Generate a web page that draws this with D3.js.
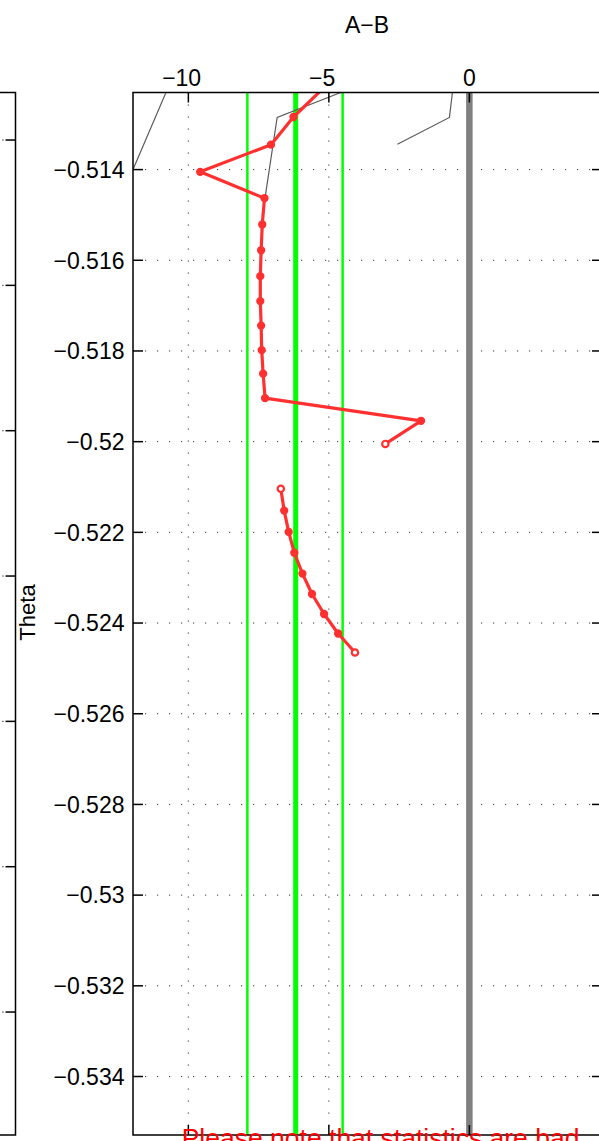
<!DOCTYPE html>
<html>
<head>
<meta charset="utf-8">
<script src="https://cdn.jsdelivr.net/npm/d3@7"></script>
<style>
  html, body { margin: 0; padding: 0; background: #fff; }
  svg { display: block; }
  text { font-family: "Liberation Sans", Arial, Helvetica, sans-serif; }
</style>
</head>
<body>
<svg id="chart" width="599" height="1141"></svg>
<script>
// ---------- data ----------
const xTicks = [-10, -5, 0];
const yTicks = [-0.534, -0.532, -0.530, -0.528, -0.526, -0.524, -0.522, -0.520, -0.518, -0.516, -0.514];
const xLabel = "A\u2212B";
const yLabel = "Theta";
const noteText = "Please note that statistics are bad";

// red track, first segment (A-B value, Theta)
const seg1AB    = [-5.12, -6.26, -7.06, -9.58, -7.29, -7.37, -7.41, -7.44, -7.44, -7.41, -7.39, -7.34, -7.27, -1.72, -2.99];
const seg1Theta = [-0.51216, -0.51284, -0.51345, -0.51405, -0.51463, -0.51521, -0.51578, -0.51635, -0.51690, -0.51744, -0.51798, -0.51850, -0.51904, -0.51954, -0.52005];
// red track, second segment
const seg2AB    = [-6.71, -6.59, -6.43, -6.23, -5.94, -5.60, -5.17, -4.67, -4.07];
const seg2Theta = [-0.52104, -0.52152, -0.52199, -0.52245, -0.52291, -0.52336, -0.52380, -0.52423, -0.52465];

// thin gray traces
const grayA_AB = [-10.79, -11.97];
const grayA_Th = [-0.51229, -0.51400];
const grayB_AB = [-4.53, -6.84, -7.27];
const grayB_Th = [-0.51229, -0.51285, -0.51462];
const grayC_AB = [-0.60, -0.71, -2.56];
const grayC_Th = [-0.51229, -0.51285, -0.51344];

// vertical reference lines
const greenMean = -6.18;
const greenBand = [-7.90, -4.51];
const zeroRef = 0;

// left neighbouring panel ticks (labels off-screen)
const leftPanelTicks = [1, 2, 3, 4, 5, 6, 7];

// ---------- layout ----------
const L = 133, R = 602, T = 92.5, B = 1135;
const svg = d3.select("#chart");

const x = d3.scaleLinear().domain([-11.97, 4.72]).range([L, R]);
const y = d3.scaleLinear().domain([-0.53529, -0.51230]).range([B, T]);
const yLeft = d3.scaleLinear().domain([0.673, 7.846]).range([T, B]);

svg.append("defs").append("clipPath").attr("id", "clip")
  .append("rect").attr("x", L).attr("y", T).attr("width", R - L).attr("height", B - T);

const fmtY = v => String(+v.toFixed(3)).replace("-", "\u2212");
const fmtX = v => String(v).replace("-", "\u2212");

// ---------- grid ----------
const grid = svg.append("g");
grid.selectAll("line.gx").data(xTicks).join("line")
  .attr("x1", d => x(d)).attr("x2", d => x(d)).attr("y1", T).attr("y2", B)
  .attr("stroke", "#333").attr("stroke-width", 1).attr("stroke-dasharray", "1.2,10.8");
grid.selectAll("line.gy").data(yTicks).join("line")
  .attr("x1", L).attr("x2", R).attr("y1", d => y(d)).attr("y2", d => y(d))
  .attr("stroke", "#333").attr("stroke-width", 1).attr("stroke-dasharray", "1.2,10.8");

const plot = svg.append("g").attr("clip-path", "url(#clip)");

// green lines
plot.selectAll("line.band").data(greenBand).join("line")
  .attr("x1", d => x(d)).attr("x2", d => x(d)).attr("y1", T).attr("y2", B)
  .attr("stroke", "#00ff00").attr("stroke-width", 2.5);
plot.append("line")
  .attr("x1", x(greenMean)).attr("x2", x(greenMean)).attr("y1", T).attr("y2", B)
  .attr("stroke", "#00ff00").attr("stroke-width", 5);

// zero reference
plot.append("line")
  .attr("x1", x(zeroRef)).attr("x2", x(zeroRef)).attr("y1", T).attr("y2", B)
  .attr("stroke", "#808080").attr("stroke-width", 6.5);

// gray traces
const line = d3.line().x(d => x(d[0])).y(d => y(d[1]));
const grays = [
  d3.zip(grayA_AB, grayA_Th),
  d3.zip(grayB_AB, grayB_Th),
  d3.zip(grayC_AB, grayC_Th)
];
plot.selectAll("path.gray").data(grays).join("path")
  .attr("d", line).attr("fill", "none").attr("stroke", "#5a5a5a").attr("stroke-width", 1.2);

// red tracks
const red = "#ff3030";
const segs = [d3.zip(seg1AB, seg1Theta), d3.zip(seg2AB, seg2Theta)];
segs.forEach(seg => {
  const isEnd = i => i === 0 || i === seg.length - 1;
  plot.append("path").attr("d", line(seg)).attr("fill", "none")
    .attr("stroke", red).attr("stroke-width", 3.2).attr("stroke-linejoin", "round");
  plot.selectAll(null).data(seg).join("circle")
    .attr("cx", d => x(d[0])).attr("cy", d => y(d[1]))
    .attr("r", (d, i) => isEnd(i) ? 3.2 : 3.4)
    .attr("fill", (d, i) => isEnd(i) ? "#fff" : red)
    .attr("stroke", red).attr("stroke-width", (d, i) => isEnd(i) ? 2.2 : 1.5);
});

// ---------- axes frame & ticks ----------
const ax = svg.append("g").attr("stroke", "#000").attr("stroke-width", 1.5).attr("fill", "none");
ax.append("rect").attr("x", L).attr("y", T).attr("width", R - L).attr("height", B - T);
const tl = 10;
ax.selectAll("line.tt").data(xTicks).join("line")
  .attr("x1", d => x(d)).attr("x2", d => x(d)).attr("y1", T).attr("y2", T + tl);
ax.selectAll("line.tb").data(xTicks).join("line")
  .attr("x1", d => x(d)).attr("x2", d => x(d)).attr("y1", B).attr("y2", B - tl);
ax.selectAll("line.tl").data(yTicks).join("line")
  .attr("x1", L).attr("x2", L + tl).attr("y1", d => y(d)).attr("y2", d => y(d));
ax.selectAll("line.tr").data(yTicks).join("line")
  .attr("x1", R).attr("x2", R - tl).attr("y1", d => y(d)).attr("y2", d => y(d));

// left neighbouring panel
const lp = svg.append("g").attr("stroke", "#000").attr("stroke-width", 1.5).attr("fill", "none");
lp.append("path").attr("d", `M-5,${T}H15.5V${B}H-5`);
lp.selectAll("line.lt").data(leftPanelTicks).join("line")
  .attr("x1", 15.5).attr("x2", 5.5).attr("y1", d => yLeft(d)).attr("y2", d => yLeft(d));
svg.selectAll("rect.ld").data(leftPanelTicks).join("rect")
  .attr("x", 2.3).attr("y", d => yLeft(d) - 0.6).attr("width", 1.2).attr("height", 1.2).attr("fill", "#333");

// ---------- labels ----------
const fs = 23;
// y tick labels
svg.append("g").selectAll("text").data(yTicks).join("text")
  .attr("x", 124.5).attr("y", d => y(d)).attr("dy", "0.36em")
  .attr("text-anchor", "end").attr("font-size", fs).attr("fill", "#000")
  .text(fmtY);

// x tick labels (digits centred on tick, minus sign hanging left, MATLAB-style)
const xl = svg.append("g");
xTicks.forEach(v => {
  const t = xl.append("text").attr("font-size", fs).attr("fill", "#000")
    .attr("y", 85.5).attr("text-anchor", "end").text(String(Math.abs(v)));
  const w = t.node().getComputedTextLength();
  t.attr("x", x(v) + w / 2).text(fmtX(v));
});

// title / axis label on top
svg.append("text").attr("x", 367).attr("y", 32.5).attr("text-anchor", "middle")
  .attr("font-size", fs).attr("fill", "#000").text(xLabel);

// y label
svg.append("text").attr("transform", "translate(34.5,612.5) rotate(-90)")
  .attr("text-anchor", "middle").attr("font-size", 22).attr("fill", "#000").text(yLabel);

// warning note (clipped by the bottom edge, as in the reference)
svg.append("text").attr("x", 181.7).attr("y", 1147.3)
  .attr("font-size", 26.5).attr("fill", "#ff0000").text(noteText);
</script>
</body>
</html>
